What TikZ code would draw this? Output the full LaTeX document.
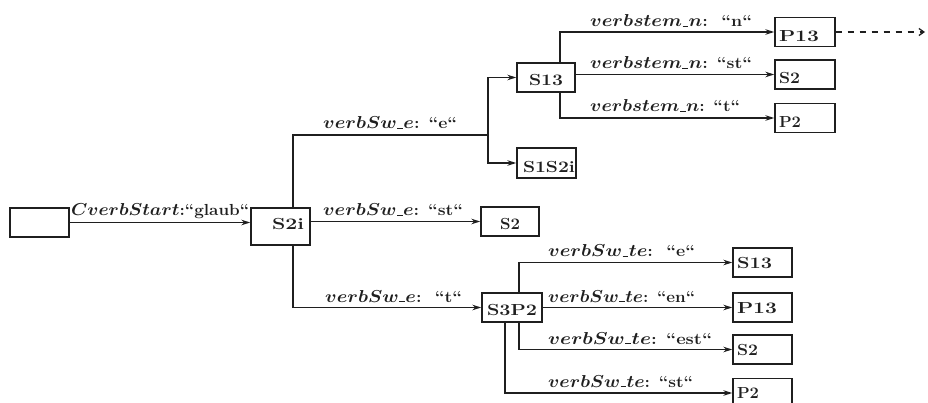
\documentclass[tikz,border=0pt]{standalone}
\usepackage{graphicx}
\usetikzlibrary{arrows.meta}
\newcommand{\lab}[2]{\resizebox{#1pt}{\height}{#2}}
\newcommand{\us}{\kern0.4pt\rule{0.32em}{0.08em}\kern0.4pt}
\colorlet{ink}{black!88}
\begin{document}
\begin{tikzpicture}[x=1pt,y=-1pt,
  boxs/.style={draw=ink, text=ink, line width=1.4pt, minimum height=29pt, inner sep=0pt, text depth=0pt, text height=11pt, font=\fontsize{16}{19}\selectfont\bfseries},
  cbox/.style={boxs, minimum width=58pt},
  lbox/.style={boxs, inner xsep=4pt, text width=51pt, align=left},
  lbl/.style={anchor=base west, inner sep=0pt, text=ink, font=\fontsize{16}{19}\selectfont\boldmath\bfseries},
  conn/.style={draw=ink, line width=1.4pt, -{Stealth[length=9pt,width=5.5pt]}},
  wire/.style={draw=ink, line width=1.4pt}]
\fill[white] (0,0) rectangle (928,403);
\useasboundingbox (0,0) rectangle (928,403);

\node[boxs, minimum width=59pt] (start) at (39.5,222.5) {};
\node[boxs, minimum width=59pt, minimum height=37pt, inner xsep=6pt, text width=47pt, align=right, text height=6pt] (s2i) at (280.5,226.5) {\resizebox{32pt}{\height}{S2i}};
\node[cbox, text height=16pt] (s13) at (546,77.5) {\resizebox{34pt}{\height}{S13}};
\node[boxs, minimum width=59pt, minimum height=30pt, inner xsep=6pt, text width=47pt, align=left, text height=19pt] (s1s2i) at (546.5,163) {\resizebox{52pt}{\height}{S1S2i}};
\node[cbox, text height=16pt] (s2m) at (510,221.5) {\resizebox{20pt}{\height}{S2}};
\node[cbox, minimum width=60pt, text height=15pt] (s3p2) at (512,307.5) {\resizebox{50pt}{\height}{S3P2}};
\node[lbox, text width=52pt, text height=19pt] (p13t) at (805,32) {\resizebox{40pt}{\height}{P13}};
\node[lbox, text width=52pt, text height=19pt] (s2t) at (805,74.5) {\resizebox{21pt}{\height}{S2}};
\node[lbox, text width=52pt, text height=19pt] (p2t) at (805,118) {\resizebox{22pt}{\height}{P2}};
\node[lbox] (s13b) at (762.5,262.5) {\resizebox{35pt}{\height}{S13}};
\node[lbox] (p13b) at (762.5,307.5) {\resizebox{40pt}{\height}{P13}};
\node[lbox] (s2b) at (762.5,349.5) {\resizebox{21pt}{\height}{S2}};
\node[lbox] (p2b) at (762.5,393) {\resizebox{22pt}{\height}{P2}};

\coordinate (a1) at (293,135);
\coordinate (a2) at (488,135);
\coordinate (b1) at (293,307.5);
\coordinate (c1) at (560,0);
\coordinate (d1) at (519,0);
\coordinate (d2) at (505,0);
\coordinate (dashend) at (925,32);

\draw[conn] (start.east) -- (start.east -| s2i.west);
\draw[wire] (s2i.north -| a1) -- (a1) -- (a2);
\draw[conn] (a2) |- (s13.west);
\draw[conn] (a2) |- (s1s2i.west);
\draw[conn] (s2i.east |- s2m.west) -- (s2m.west);
\draw[conn] (s2i.south -| b1) -- (b1) -- (s3p2.west);
\draw[conn] (s13.north -| c1) |- (p13t.west);
\draw[conn] (s13.east |- s2t.west) -- (s2t.west);
\draw[conn] (s13.south -| c1) |- (p2t.west);
\draw[draw=ink, line width=1.3pt, dash pattern=on 6pt off 6pt, -{Straight Barb[length=5pt,width=7pt]}] (p13t.east) -- (dashend);
\draw[conn] (s3p2.north -| d1) |- (s13b.west);
\draw[conn] (s3p2.east) -- (p13b.west);
\draw[conn] (s3p2.south -| d1) |- (s2b.west);
\draw[conn] (s3p2.south -| d2) |- (p2b.west);

\node[lbl] (l1) at (71,216) {\lab{178}{$CverbStart$:“glaub“}};
\node[lbl] (l2) at (323,129) {\lab{134}{$verbSw$\us$e$: “e“}};
\node[lbl] (l3) at (323,216) {\lab{140}{$verbSw$\us$e$: “st“}};
\node[lbl] (l4) at (325,302) {\lab{137}{$verbSw$\us$e$:\ \ “t“}};
\node[lbl] (l5) at (590,27) {\lab{162}{$verbstem$\us$n$:\ \ “n“}};
\node[lbl] (l6) at (590,69) {\lab{162}{$verbstem$\us$n$: “st“}};
\node[lbl] (l7) at (590,112) {\lab{150}{$verbstem$\us$n$: “t“}};
\node[lbl] (l8) at (548,257) {\lab{147}{$verbSw$\us$te$:\ \ “e“}};
\node[lbl] (l9) at (548,302) {\lab{147}{$verbSw$\us$te$: “en“}};
\node[lbl] (l10) at (548,344) {\lab{164}{$verbSw$\us$te$: “est“}};
\node[lbl] (l11) at (548,387) {\lab{145}{$verbSw$\us$te$: “st“}};
\end{tikzpicture}
\end{document}
